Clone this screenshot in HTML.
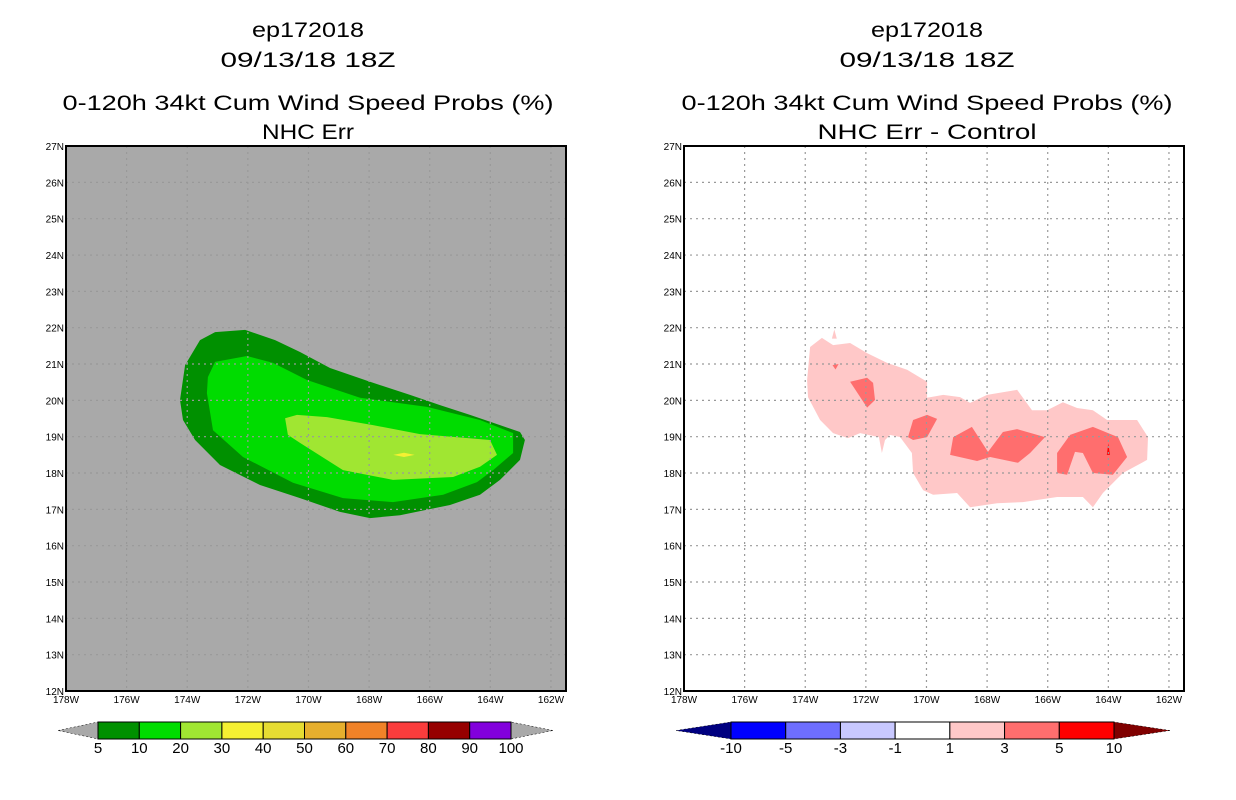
<!DOCTYPE html>
<html><head><meta charset="utf-8"><style>
html,body{margin:0;padding:0;background:#fff;}
svg{display:block;font-family:"Liberation Sans",sans-serif;}
</style></head><body>
<svg id="chart" width="1236" height="800" viewBox="0 0 1236 800" xmlns="http://www.w3.org/2000/svg">
<g font-size="21" text-anchor="middle" fill="#000" lengthAdjust="spacingAndGlyphs">
<text x="308" y="37" textLength="112" lengthAdjust="spacingAndGlyphs">ep172018</text><text x="308" y="67" textLength="175" lengthAdjust="spacingAndGlyphs">09/13/18 18Z</text>
<text x="308" y="110" textLength="491" lengthAdjust="spacingAndGlyphs">0-120h 34kt Cum Wind Speed Probs (%)</text><text x="308" y="139" textLength="92" lengthAdjust="spacingAndGlyphs">NHC Err</text></g>
<g font-size="21" text-anchor="middle" fill="#000">
<text x="927" y="37" textLength="112" lengthAdjust="spacingAndGlyphs">ep172018</text><text x="927" y="67" textLength="175" lengthAdjust="spacingAndGlyphs">09/13/18 18Z</text>
<text x="927" y="110" textLength="491" lengthAdjust="spacingAndGlyphs">0-120h 34kt Cum Wind Speed Probs (%)</text><text x="927" y="139" textLength="219" lengthAdjust="spacingAndGlyphs">NHC Err - Control</text></g>
<g id="left"></g>
<g id="right"></g>
<g id="cbars"></g>
</svg>
<script>
const lonTicks=[178,176,174,172,170,168,166,164,162];
const latTicks=[12,13,14,15,16,17,18,19,20,21,22,23,24,25,26,27];
const probOuter=[[174.24,20.01],[174.07,20.97],[173.58,21.66],[173.08,21.88],[172.09,21.94],[171.10,21.66],[170.28,21.33],[169.29,20.89],[167.97,20.51],[166.65,20.15],[165.66,19.87],[164.67,19.60],[163.68,19.32],[163.02,19.13],[162.86,18.91],[163.02,18.36],[163.68,17.81],[164.34,17.40],[165.33,17.12],[166.98,16.84],[167.97,16.76],[168.96,16.93],[170.28,17.31],[171.60,17.67],[172.92,18.22],[173.74,18.91],[174.14,19.46]];
const prob10=[[173.08,21.06],[172.03,21.22],[171.17,21.03],[170.05,20.56],[168.30,20.07],[166.09,19.82],[164.34,19.46],[163.25,19.10],[163.25,18.55],[163.91,18.08],[164.44,17.75],[165.56,17.40],[167.21,17.20],[168.86,17.31],[170.51,17.73],[172.16,18.44],[173.15,19.18],[173.35,20.20],[173.32,20.64]];
const prob20=[[170.77,19.51],[170.38,19.60],[169.39,19.54],[167.87,19.32],[166.32,19.07],[164.01,18.91],[163.78,18.50],[164.34,18.17],[165.23,17.89],[167.21,17.81],[168.86,18.08],[170.28,18.83],[170.68,19.05]];
const prob30=[[167.2,18.5],[166.85,18.56],[166.5,18.5],[166.85,18.44]];
const diff1=[[173.84,21.47],[173.45,21.72],[173.08,21.52],[172.52,21.58],[171.96,21.30],[171.30,21.03],[170.64,20.84],[169.98,20.51],[169.98,20.07],[169.45,20.15],[168.89,20.09],[168.56,19.93],[168.00,20.15],[167.01,20.29],[166.52,19.73],[166.02,19.73],[165.50,19.95],[165.03,19.79],[164.51,19.73],[164.04,19.46],[163.05,19.46],[162.69,18.99],[162.72,18.36],[163.52,18.00],[164.18,17.45],[164.51,17.06],[164.84,17.34],[165.69,17.34],[166.82,17.20],[167.67,17.17],[168.56,17.06],[168.99,17.45],[169.78,17.40],[170.11,17.53],[170.44,18.00],[170.48,18.55],[170.87,18.99],[171.20,19.05],[171.37,18.91],[171.47,18.55],[171.57,18.99],[172.19,19.10],[172.59,18.96],[173.08,19.10],[173.51,19.46],[173.91,20.09],[173.94,20.56]];
const diff1b=[[173.12,21.7],[173.04,21.95],[172.96,21.7]];
const diff3a=[[172.52,20.51],[171.96,20.62],[171.76,20.48],[171.70,20.01],[171.96,19.80]];
const diff3b=[[170.44,19.46],[169.98,19.60],[169.65,19.49],[169.98,18.99],[170.44,18.91],[170.61,18.99]];
const diff3c=[[169.12,18.99],[168.50,19.27],[167.97,18.58],[167.48,19.13],[167.01,19.21],[166.09,18.99],[166.58,18.55],[166.98,18.28],[167.90,18.44],[168.33,18.33],[169.22,18.50]];
const diff3d=[[165.69,18.55],[165.26,19.05],[164.51,19.27],[163.68,18.99],[163.38,18.44],[163.85,17.95],[164.51,18.00],[164.84,18.55],[165.10,18.58],[165.36,17.95],[165.69,18.00]];
const diff3e=[[173.1,20.97],[172.9,21.0],[173.0,20.85]];
const diff5=[[164.05,18.5],[164.0,18.82],[163.95,18.5]];
const probLevels=["5","10","20","30","40","50","60","70","80","90","100"];
const probColors=["#009000","#00dc00","#a0e632","#f5f032","#e6dc32","#e6af2d","#f08228","#fa3c3c","#960000","#8200dc"];
const diffLevels=["-10","-5","-3","-1","1","3","5","10"];
const diffColors=["#0000ff","#6e6eff","#c8c8ff","#ffffff","#ffc8c8","#ff6e6e","#ff0000"];

const NS="http://www.w3.org/2000/svg";
const Y0=146,Y1=691,W=500;
function xs(x0){return lon=>x0+(178-lon)*30.31;}
function ys(lat){return Y1-(lat-12)*36.33;}
function mk(p,tag,at){const e=document.createElementNS(NS,tag);for(const k in at)e.setAttribute(k,at[k]);p.appendChild(e);return e;}
function poly(g,x,pts,fill,name){const e=mk(g,'polygon',{points:pts.map(p=>x(p[0]).toFixed(1)+','+ys(p[1]).toFixed(1)).join(' '),fill:fill});

}
function map(id,x0,bg,layers){
 const g=document.getElementById(id);const x=xs(x0);
 const r=mk(g,'rect',{x:x0,y:Y0,width:W,height:Y1-Y0,fill:bg});
 
 
 layers.forEach(l=>poly(g,x,l[0],l[1],l[2]));
 const gg=mk(g,'g',{stroke:'#999','stroke-width':1.2,'stroke-dasharray':'2,4'});
 
 
 lonTicks.slice(1).forEach(l=>mk(gg,'line',{x1:x(l),x2:x(l),y1:Y0,y2:Y1}));
 latTicks.slice(1,-1).forEach(l=>mk(gg,'line',{x1:x0,x2:x0+W,y1:ys(l),y2:ys(l)}));
 const f=mk(g,'rect',{x:x0,y:Y0,width:W,height:Y1-Y0,fill:'none',stroke:'#000','stroke-width':2});
 
 
 lonTicks.forEach(l=>{const t=mk(g,'text',{x:x(l),y:Y1+12,'font-size':10,'text-anchor':'middle'});t.textContent=l+'W';
  
  });
 latTicks.forEach(l=>{const t=mk(g,'text',{x:x0-2,y:ys(l)+4,'font-size':10,'text-anchor':'end'});t.textContent=l+'N';
  
  });
}
map('left',66,'#a9a9a9',[[probOuter,probColors[0],'prob-5'],[prob10,probColors[1],'prob-10'],[prob20,probColors[2],'prob-20'],[prob30,probColors[3],'prob-30']]);
map('right',684,'#ffffff',[[diff1,diffColors[4],'diff-1'],[diff1b,diffColors[4],'diff-1-tip'],[diff3a,diffColors[5],'diff-3a'],[diff3b,diffColors[5],'diff-3b'],[diff3c,diffColors[5],'diff-3c'],[diff3d,diffColors[5],'diff-3d'],[diff3e,diffColors[5],'diff-3e'],[diff5,diffColors[6],'diff-5']]);
function cbar(x0,x1,tip0,tip1,cols,labs,c0,c1,name){
 const g=mk(document.getElementById('cbars'),'g',{});
 
 
 const y0=722,y1=739,ym=730.5,bw=(x1-x0)/cols.length;
 mk(g,'polygon',{points:`${tip0},${ym} ${x0},${y0} ${x0},${y1}`,fill:c0,stroke:'#000','stroke-width':0.5,'stroke-dasharray':'2,2'});
 mk(g,'polygon',{points:`${tip1},${ym} ${x1},${y0} ${x1},${y1}`,fill:c1,stroke:'#000','stroke-width':0.5,'stroke-dasharray':'2,2'});
 cols.forEach((c,i)=>mk(g,'rect',{x:x0+i*bw,y:y0,width:bw,height:y1-y0,fill:c,stroke:'#000','stroke-width':1}));
 labs.forEach((l,i)=>{const t=mk(g,'text',{x:x0+i*bw,y:753,'font-size':15,'text-anchor':'middle'});t.textContent=l;});
}
cbar(98,511,58,553,probColors,probLevels,'#a9a9a9','#a9a9a9','prob-colorbar');
cbar(731,1114,676,1170,diffColors,diffLevels,'#000080','#800000','diff-colorbar');
</script>
</body></html>
